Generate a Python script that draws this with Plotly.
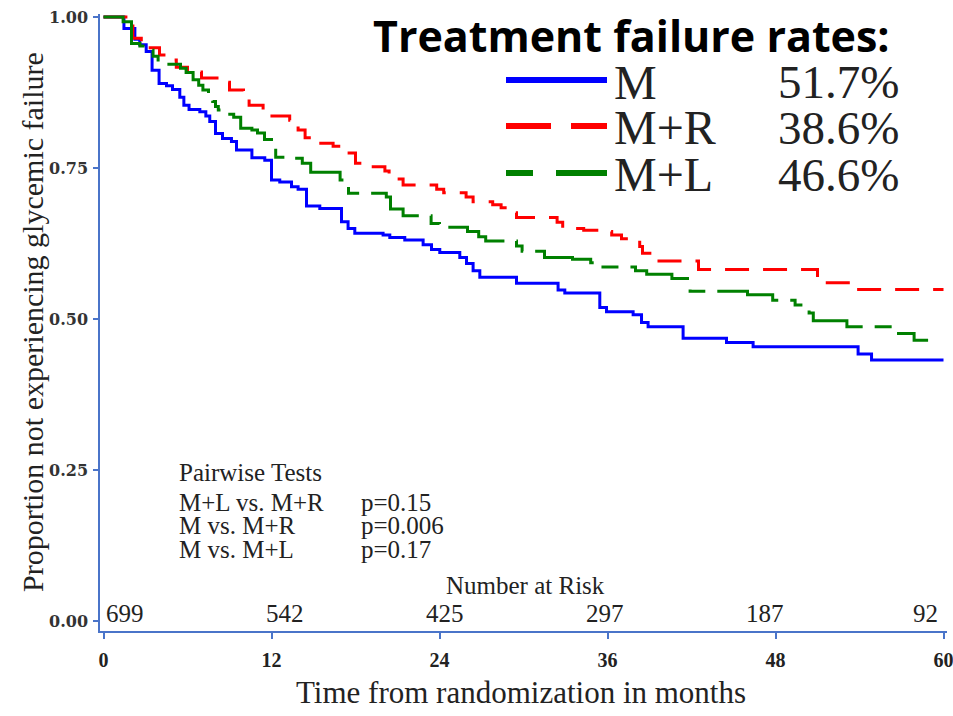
import numpy as np
import plotly.graph_objects as go

# Kaplan-Meier step data (months, proportion without glycemic failure)
m_time = [0, 1.46, 2.24, 2.59, 3.05, 3.47, 3.97, 4.5, 4.93, 5.45, 5.74, 6.11, 6.88, 7.31,
          7.59, 8.0, 8.5, 9.14, 9.5, 10.6, 11.52, 12.0, 12.59, 13.43, 13.9, 14.5, 15.45,
          17.0, 17.47, 17.95, 19.97, 20.45, 21.52, 22.83, 23.43, 24.02, 25.45, 25.93,
          26.4, 26.88, 29.5, 32.47, 32.95, 35.45, 35.93, 37.83, 38.43, 38.9, 41.4, 44.5,
          46.4, 53.9, 54.86, 60.0]
m_surv = [1.0, 0.981, 0.963, 0.954, 0.943, 0.912, 0.890, 0.886, 0.880, 0.867, 0.854, 0.847,
          0.843, 0.836, 0.827, 0.807, 0.799, 0.794, 0.780, 0.767, 0.763, 0.730, 0.727, 0.719,
          0.715, 0.687, 0.683, 0.661, 0.650, 0.642, 0.639, 0.635, 0.631, 0.623, 0.615, 0.610,
          0.602, 0.592, 0.580, 0.569, 0.559, 0.548, 0.543, 0.519, 0.512, 0.507, 0.494, 0.487,
          0.468, 0.461, 0.454, 0.442, 0.432, 0.432]

mr_time = [0, 1.6, 2.1, 2.7, 3.1, 4.0, 4.5, 5.2, 6.0, 7.0, 8.5, 9.0, 10.0, 10.4, 11.4, 11.9,
           13.3, 13.9, 14.4, 14.7, 16.4, 17.4, 18.0, 18.7, 20.1, 20.4, 21.4, 23.8, 24.3,
           25.9, 26.4, 27.8, 28.4, 28.9, 29.5, 32.4, 32.8, 34.3, 35.5, 36.3, 37.0, 38.3,
           38.5, 39.2, 42.5, 51.0, 51.2, 53.2, 60.0]
mr_surv = [1.0, 0.985, 0.965, 0.955, 0.949, 0.937, 0.929, 0.917, 0.909, 0.899, 0.892, 0.879,
           0.871, 0.854, 0.846, 0.836, 0.829, 0.813, 0.800, 0.791, 0.786, 0.775, 0.758, 0.752,
           0.745, 0.732, 0.722, 0.715, 0.709, 0.702, 0.694, 0.689, 0.684, 0.676, 0.668, 0.660,
           0.650, 0.647, 0.645, 0.639, 0.633, 0.620, 0.609, 0.596, 0.582, 0.572, 0.560, 0.549,
           0.549]

ml_time = [0, 1.4, 2.0, 2.6, 3.07, 3.54, 3.9, 4.4, 5.5, 5.9, 6.4, 6.8, 7.1, 7.5, 7.8, 8.0,
           8.2, 8.9, 9.3, 9.8, 10.6, 11.0, 11.5, 12.0, 12.3, 13.5, 14.2, 14.8, 16.9, 17.3,
           17.5, 20.2, 20.5, 21.4, 23.4, 24.0, 26.0, 26.8, 27.3, 29.5, 29.9, 31.5, 33.5, 34.8,
           35.2, 38.0, 38.8, 40.6, 41.9, 46.0, 47.8, 49.4, 50.4, 50.7, 53.1, 56.4, 57.9, 58.9]
ml_surv = [1.0, 0.992, 0.956, 0.952, 0.945, 0.935, 0.929, 0.922, 0.915, 0.908, 0.896, 0.887,
           0.879, 0.868, 0.860, 0.852, 0.846, 0.839, 0.834, 0.816, 0.813, 0.808, 0.797, 0.782,
           0.768, 0.766, 0.758, 0.743, 0.730, 0.722, 0.708, 0.702, 0.682, 0.671, 0.658, 0.652,
           0.645, 0.636, 0.629, 0.621, 0.612, 0.602, 0.599, 0.593, 0.586, 0.580, 0.574, 0.567,
           0.546, 0.540, 0.531, 0.523, 0.510, 0.497, 0.487, 0.476, 0.465, 0.465]

group_names = ["M", "M+R", "M+L"]
failure_rates = ["51.7%", "38.6%", "46.6%"]
pair_labels = ["M+L vs. M+R", "M vs. M+R", "M vs. M+L"]
pair_pvalues = ["p=0.15", "p=0.006", "p=0.17"]
risk_months = [0, 12, 24, 36, 48, 60]
at_risk = [699, 542, 425, 297, 187, 92]
y_ticks = [0, 0.25, 0.5, 0.75, 1.0]

W, H = 953, 716
L, R, T, B = 100, 6, 14, 85
PW, PH = W - L - R, H - T - B


def fx(x):
    return (x - L) / PW


def fy(y):
    return (H - B - y) / PH


AXIS = "#4a74c9"
SERIF = "Liberation Serif"
TEXT = "#222"
colors = ["#0000ff", "#ff0000", "#008000"]
dashes = ["solid", "24px,14px", "70px,12px,17px,12px"]

fig = go.Figure()
for name, t, s, c, d in zip(group_names, [m_time, mr_time, ml_time],
                            [m_surv, mr_surv, ml_surv], colors, dashes):
    fig.add_trace(go.Scatter(x=t, y=s, mode="lines", name=name, line_shape="hv",
                             line=dict(color=c, width=3, dash=d), hoverinfo="skip"))

fig.update_layout(
    width=W, height=H, margin=dict(l=L, r=R, t=T, b=B, autoexpand=False),
    plot_bgcolor="white", paper_bgcolor="white", showlegend=False,
    xaxis=dict(range=[-0.25, 60.25], tickvals=risk_months, showgrid=False, zeroline=False,
               showline=True, linecolor=AXIS, linewidth=1.5, ticks="outside", ticklen=6,
               tickcolor=AXIS, tickwidth=1.5, ticklabelstandoff=4, automargin=False,
               ticklabeloverflow="allow",
               tickfont=dict(family=SERIF, size=20, color=TEXT, weight="bold")),
    yaxis=dict(range=[-0.0166, 1.005], tickvals=y_ticks, tickformat=".2f", showgrid=False,
               zeroline=False, showline=True, linecolor=AXIS, linewidth=1.5, ticks="outside",
               ticklen=5, tickcolor=AXIS, tickwidth=1.5, ticklabelstandoff=2,
               automargin=False, ticklabeloverflow="allow",
               tickfont=dict(family="DejaVu Serif", size=16, color="#333", weight="bold")),
)


def note(x, y, text, size, xanchor="center", family=SERIF, weight="normal",
         angle=0, xref="paper", color=TEXT):
    return dict(x=x, y=fy(y), xref=xref, yref="paper", xanchor=xanchor, yanchor="middle",
                showarrow=False, text=text, textangle=angle,
                font=dict(family=family, size=size, color=color, weight=weight))


ann = []
# axis titles
ann.append(note(fx(521), 692, "Time from randomization in months", 31))
ann.append(note(fx(32), 322, "Proportion not experiencing glycemic failure", 30, angle=-90))

# heading and legend
ann.append(note(fx(631), 35, "Treatment failure rates:", 43, family="Open Sans",
                weight="bold", color="black"))
leg_y = [80, 126, 173]
for i, (nm, rate) in enumerate(zip(group_names, failure_rates)):
    ann.append(note(fx(612), leg_y[i] + 2, nm, 48, xanchor="left"))
    ann.append(note(fx(776), leg_y[i] + 2, rate, 47, xanchor="left"))

shapes = []
legend_segments = [[(506, 607)], [(506, 551), (571, 607)], [(506, 533), (556, 607)]]
for i, segs in enumerate(legend_segments):
    for a, b in segs:
        shapes.append(dict(type="line", xref="paper", yref="paper", x0=fx(a), x1=fx(b),
                           y0=fy(leg_y[i]), y1=fy(leg_y[i]),
                           line=dict(color=colors[i], width=6)))

# pairwise tests block
ann.append(note(fx(177), 472, "Pairwise Tests", 25, xanchor="left"))
for i, (lab, p) in enumerate(zip(pair_labels, pair_pvalues)):
    yy = 502 + 23.5 * i
    ann.append(note(fx(177), yy, lab, 25, xanchor="left"))
    ann.append(note(fx(359), yy, p, 25, xanchor="left"))

# number at risk row
ann.append(note(fx(525), 585, "Number at Risk", 25))
risk_x = np.linspace(1.5, 58.7, len(at_risk))
for xv, n in zip(risk_x, at_risk):
    ann.append(note(xv, 613, str(n), 25, xref="x"))

fig.update_layout(annotations=ann, shapes=shapes)
fig.write_html("out.html")
